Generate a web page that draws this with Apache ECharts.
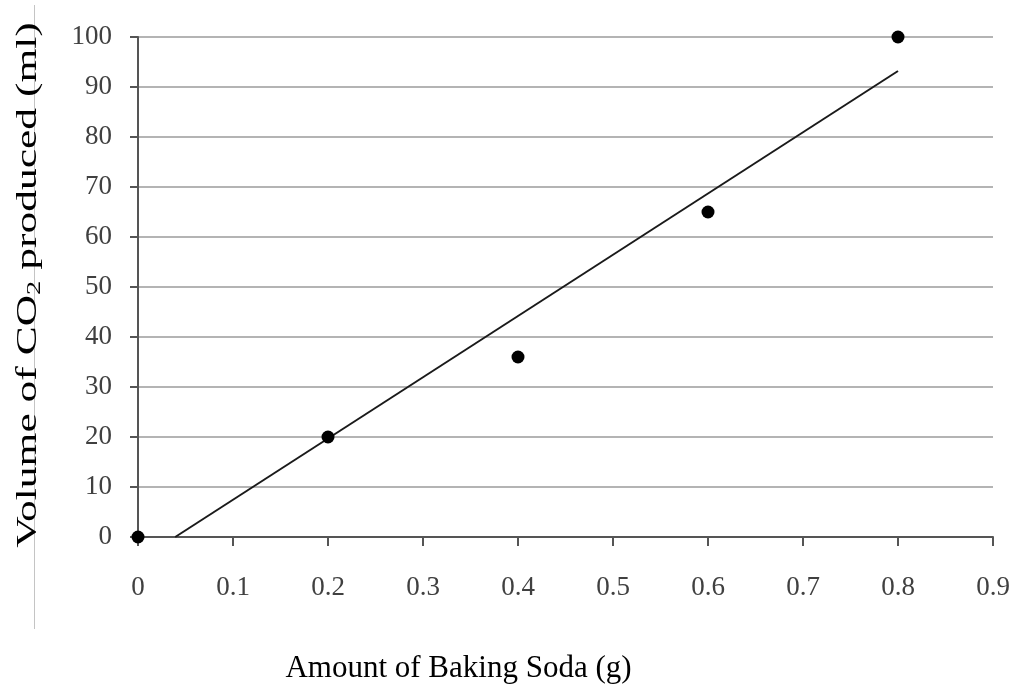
<!DOCTYPE html>
<html>
<head>
<meta charset="utf-8">
<script src="https://cdn.jsdelivr.net/npm/echarts@6/dist/echarts.min.js"></script>
<style>
html,body{margin:0;padding:0;background:#fff;}
#chart{width:1018px;height:689px;}
</style>
</head>
<body>
<div id="chart"></div>
<script>
// Data
var bakingSoda = [0, 0.2, 0.4, 0.6, 0.8];      // g
var co2Volume  = [0, 20, 36, 65, 100];         // ml
var xTicks = [0, 0.1, 0.2, 0.3, 0.4, 0.5, 0.6, 0.7, 0.8, 0.9];
var yTicks = [0, 10, 20, 30, 40, 50, 60, 70, 80, 90, 100];
var xTitle = 'Amount of Baking Soda (g)';
var yTitleParts = ['Volume of CO', '2', ' produced (ml)'];

// Linear trendline (least squares) from the data, clipped at y = 0
function trend(xs, ys) {
  var n = xs.length, mx = 0, my = 0;
  for (var i = 0; i < n; i++) { mx += xs[i]; my += ys[i]; }
  mx /= n; my /= n;
  var sxy = 0, sxx = 0;
  for (var j = 0; j < n; j++) { sxy += (xs[j]-mx)*(ys[j]-my); sxx += (xs[j]-mx)*(xs[j]-mx); }
  var b = sxy / sxx, a = my - b*mx;
  var x0 = Math.max(xs[0], -a / b), x1 = xs[n-1];
  return [[x0, a + b*x0], [x1, a + b*x1]];
}
var trendLine = trend(bakingSoda, co2Volume);

var points = bakingSoda.map(function (x, i) { return [x, co2Volume[i]]; });

var chart = echarts.init(document.getElementById('chart'), null, {renderer: 'canvas'});
var serif = 'Liberation Serif';
chart.setOption({
  animation: false,
  backgroundColor: '#ffffff',
  grid: {left: 138, right: 25, top: 37, bottom: 152, containLabel: false},
  graphic: [{
    type: 'line',
    shape: {x1: 34.5, y1: 5, x2: 34.5, y2: 629},
    style: {stroke: '#c4c4c4', lineWidth: 1},
    z: -1
  }, {
    type: 'text',
    x: 28, y: 285,
    rotation: Math.PI / 2,
    scaleX: 1.5,
    style: {
      text: '{n|' + yTitleParts[0] + '}{s|' + yTitleParts[1] + '}{n|' + yTitleParts[2] + '}',
      align: 'center',
      verticalAlign: 'middle',
      fill: '#000',
      rich: {
        n: {fontFamily: serif, fontSize: 29, fill: '#000', color: '#000', lineHeight: 34, verticalAlign: 'middle'},
        s: {fontFamily: serif, fontSize: 19, fill: '#000', color: '#000', lineHeight: 22, verticalAlign: 'bottom'}
      }
    },
    z: 10
  }],
  xAxis: {
    type: 'value',
    min: 0, max: 0.9, interval: 0.1,
    name: xTitle,
    nameLocation: 'middle',
    nameGap: 116,
    nameTextStyle: {fontFamily: serif, fontSize: 31, color: '#000', padding: [0, 214, 0, 0]},
    axisLine: {show: true, onZero: false, lineStyle: {color: '#555', width: 2}},
    axisTick: {show: true, inside: false, length: 9, lineStyle: {color: '#555', width: 2}},
    axisLabel: {
      margin: 37, fontFamily: serif, fontSize: 27, color: '#404040',
      formatter: function (v) { var r = Math.round(v*10)/10; return xTicks.indexOf(r) >= 0 ? String(r) : ''; }
    },
    splitLine: {show: false}
  },
  yAxis: {
    type: 'value',
    min: 0, max: 100, interval: 10,
    axisLine: {show: true, onZero: false, lineStyle: {color: '#555', width: 2}},
    axisTick: {show: true, inside: false, length: 8, lineStyle: {color: '#555', width: 2}},
    axisLabel: {
      margin: 26, fontFamily: serif, fontSize: 27, color: '#404040',
      formatter: function (v) { return yTicks.indexOf(v) >= 0 ? String(v) : ''; }
    },
    splitLine: {show: true, lineStyle: {color: '#b4b4b4', width: 2}}
  },
  series: [
    {
      type: 'line',
      data: trendLine,
      symbol: 'none',
      lineStyle: {color: '#1a1a1a', width: 2},
      z: 2,
      silent: true
    },
    {
      type: 'scatter',
      data: points,
      symbol: 'circle',
      symbolSize: 13,
      itemStyle: {color: '#000', opacity: 1},
      z: 3,
      clip: false
    }
  ]
});
</script>
</body>
</html>
